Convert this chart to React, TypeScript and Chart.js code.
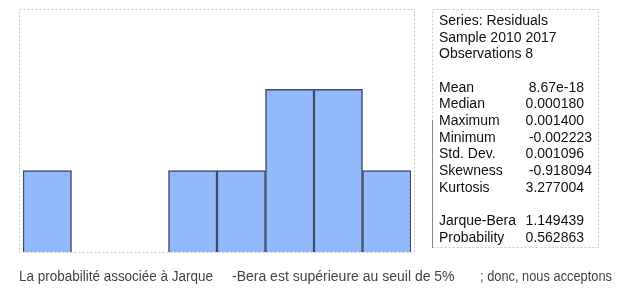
import React, { useEffect, useRef } from "react";
import { Chart, registerables } from "chart.js";

Chart.register(...registerables);

const bins = ["b1", "b2", "b3", "b4", "b5", "b6", "b7", "b8"];
const counts = [1, 0, 0, 1, 1, 2, 2, 1];
const yMax = 3;

const headerLines = ["Series: Residuals", "Sample 2010 2017", "Observations 8"];
const statLabels = ["Mean", "Median", "Maximum", "Minimum", "Std. Dev.", "Skewness", "Kurtosis"];
const statValues = ["8.67e-18", "0.000180", "0.001400", "-0.002223", "0.001096", "-0.918094", "3.277004"];
const testLabels = ["Jarque-Bera", "Probability"];
const testValues = ["1.149439", "0.562863"];

const noteSegments = ["La probabilité associée à Jarque", "-Bera est supérieure au seuil de 5%", "; donc, nous acceptons"];

const overlayPlugin = {
  id: "overlay",
  beforeDatasetsDraw(chart: any) {
    const { ctx, chartArea } = chart;
    ctx.save();
    ctx.strokeStyle = "#c4c4c4";
    ctx.lineWidth = 1;
    ctx.setLineDash([2, 2]);
    ctx.strokeRect(chartArea.left - 3.5, chartArea.top + 1.5, chartArea.right - chartArea.left + 7, chartArea.bottom - chartArea.top - 1);
    ctx.restore();
  },
  afterDraw(chart: any) {
    const { ctx } = chart;
    ctx.save();
    // stats box
    ctx.strokeStyle = "#c8c8c8";
    ctx.lineWidth = 1;
    ctx.setLineDash([2, 2]);
    ctx.strokeRect(432.5, 9.5, 166, 238);
    ctx.setLineDash([]);
    ctx.strokeStyle = "#888";
    ctx.beginPath();
    ctx.moveTo(432.5, 120);
    ctx.lineTo(432.5, 248);
    ctx.stroke();

    ctx.fillStyle = "#111";
    ctx.font = "14px 'Liberation Sans', Arial, sans-serif";
    ctx.textBaseline = "middle";
    const x0 = 439;
    const y0 = 21;
    const step = 16.7;
    const rows: [string, string | null][] = [];
    headerLines.forEach((h) => rows.push([h, null]));
    rows.push(["", null]);
    statLabels.forEach((l, i) => rows.push([l, statValues[i]]));
    rows.push(["", null]);
    testLabels.forEach((l, i) => rows.push([l, testValues[i]]));
    rows.forEach(([label, value], i) => {
      const y = y0 + step * i;
      ctx.textAlign = "left";
      ctx.fillText(label, x0, y);
      if (value) {
        ctx.textAlign = "right";
        ctx.fillText(value, value.startsWith("-") ? 592 : 584, y);
      }
    });

    // bottom note
    ctx.fillStyle = "#444";
    ctx.font = "14px 'Liberation Sans', Arial, sans-serif";
    ctx.textAlign = "left";
    const noteX = [19, 232, 480];
    const noteW = [194, 223, 132];
    noteSegments.forEach((s, i) => ctx.fillText(s, noteX[i], 277, noteW[i]));
    ctx.restore();
  },
};

export default function App() {
  const ref = useRef<HTMLCanvasElement>(null);
  useEffect(() => {
    if (!ref.current) return;
    const chart = new Chart(ref.current, {
      type: "bar",
      data: {
        labels: bins,
        datasets: [
          {
            data: counts,
            backgroundColor: "#92bafa",
            borderColor: "#3d4a68",
            borderWidth: { top: 1.5, left: 1.5, right: 1.5, bottom: 0 },
            borderSkipped: false,
            categoryPercentage: 1,
            barPercentage: 1,
          },
        ],
      },
      options: {
        responsive: false,
        animation: false,
        layout: { padding: { left: 23, right: 215, top: 8, bottom: 36 } },
        plugins: { legend: { display: false }, tooltip: { enabled: false } },
        scales: {
          x: { display: false, offset: true, grid: { display: false } },
          y: { display: false, min: 0, max: yMax },
        },
      },
      plugins: [overlayPlugin],
    });
    return () => chart.destroy();
  }, []);
  return (
    <div style={{ position: "absolute", left: 0, top: 0, width: 626, height: 288, background: "#fff" }}>
      <canvas ref={ref} width={626} height={288} />
    </div>
  );
}
